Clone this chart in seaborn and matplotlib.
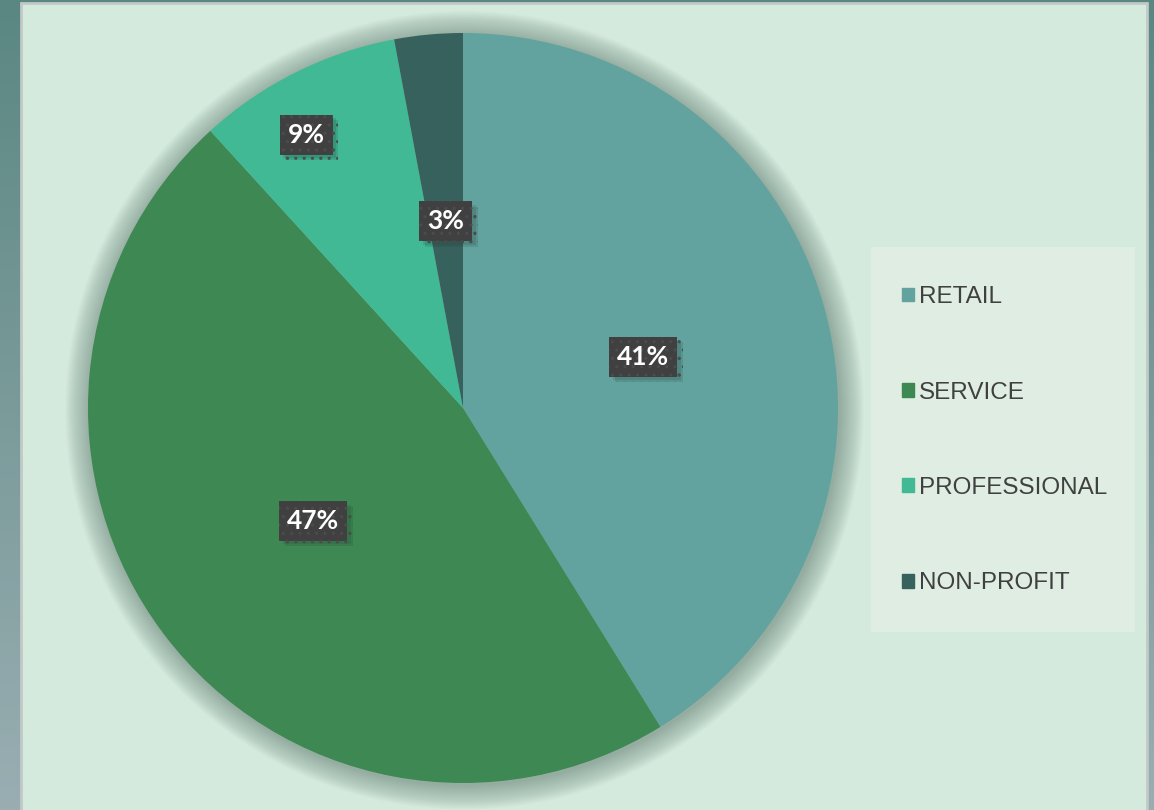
import numpy as np
import matplotlib
matplotlib.use("Agg")
import matplotlib.pyplot as plt
import matplotlib.patches as mpatches
import matplotlib.patheffects as pe
from matplotlib.colors import LinearSegmentedColormap
import seaborn as sns

# ---- data ----
categories = ["RETAIL", "SERVICE", "PROFESSIONAL", "NON-PROFIT"]
counts = [14, 16, 3, 1]
colors = ["#62a39f", "#3d8853", "#41b994", "#37615c"]

sns.set_style("white")
plt.rcParams["font.family"] = ["Liberation Sans", "DejaVu Sans"]
plt.rcParams["hatch.linewidth"] = 1.0

W, H = 1154, 810
fig = plt.figure(figsize=(W / 100, H / 100), dpi=100)

# background gradient frame
bg = fig.add_axes([0, 0, 1, 1], zorder=-10)
grad = np.linspace(0, 1, 256).reshape(-1, 1)
cmap = LinearSegmentedColormap.from_list("bg", ["#5a8782", "#9aaeb2"])
bg.imshow(grad, aspect="auto", cmap=cmap, extent=[0, 1, 0, 1], origin="upper")
bg.set_xlim(0, 1); bg.set_ylim(0, 1); bg.axis("off")
# inner panel
bg.add_patch(mpatches.Rectangle((21 / W, -0.01), (1147 - 21) / W, (H - 3) / H + 0.01,
                                 transform=bg.transAxes, fc="#d4eadc", ec="#c2c9c6", lw=2))
# legend panel
bg.add_patch(mpatches.Rectangle((871 / W, 1 - 632 / H), 264 / W, 385 / H,
                                 transform=bg.transAxes, fc="#dfede3", ec="none"))

# pie axes
ax = fig.add_axes([88 / W, 1 - 783 / H, 750 / W, 750 / H])
ax.set_facecolor("none")
wedges, _ = ax.pie(counts, colors=colors, startangle=90, counterclock=False,
                   radius=1.0, wedgeprops=dict(linewidth=0))
# soft shadow around the pie
n_sh = 26
for i in range(n_sh):
    ax.add_patch(mpatches.Circle((0.004, -0.006), 1.0 + (i + 1) * 0.0025, fc="#4f6b60",
                                 alpha=0.02, ec="none", zorder=0, clip_on=False))
for w in wedges:
    w.set_zorder(2)
ax.set_xlim(-1, 1); ax.set_ylim(-1, 1)
ax.set_aspect("equal")
ax.axis("off")

total = sum(counts)
label_r = [0.5, 0.5, 0.84, 0.5]
label_dang = [0, 0, 3.4, 0]
for w, c, r, da in zip(wedges, counts, label_r, label_dang):
    mid = np.deg2rad((w.theta1 + w.theta2) / 2 + da)
    x, y = r * np.cos(mid), r * np.sin(mid)
    t = ax.text(x, y, f"{round(100 * c / total)}%", ha="center", va="center",
                fontsize=19, fontweight="bold", color="white", family=["Lato", "DejaVu Sans"],
                zorder=5,
                bbox=dict(boxstyle="square,pad=0.3", fc="#404040", ec="#4c4c4c", lw=0, hatch=".."))
    t.get_bbox_patch().set_path_effects([
        pe.SimplePatchShadow(offset=(4, -4), shadow_rgbFace="#1f3a30", alpha=0.15),
        pe.SimplePatchShadow(offset=(2.5, -2.5), shadow_rgbFace="#1f3a30", alpha=0.15),
        pe.Normal()])

# legend
handles = [mpatches.Patch(color=col) for col in colors]
leg = fig.legend(handles, categories, loc="upper left",
                 bbox_to_anchor=(890 / W, 1 - 274 / H), frameon=False,
                 prop={"family": ["Liberation Sans", "DejaVu Sans"], "size": 17.5},
                 handlelength=0.5, handleheight=0.5, handletextpad=0.18,
                 labelspacing=3.02, borderpad=0)
for txt in leg.get_texts():
    txt.set_color("#404040")

fig.savefig("out.png", dpi=100)
